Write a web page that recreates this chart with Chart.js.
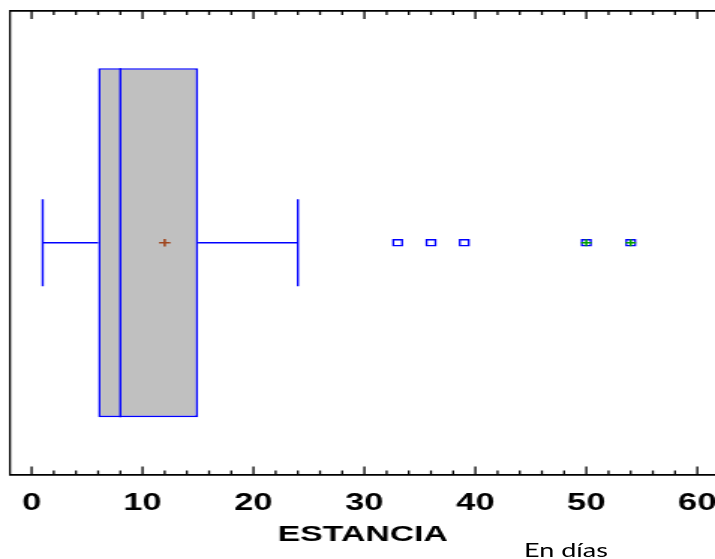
<!DOCTYPE html>
<html lang="es">
<head>
  <meta charset="UTF-8">
  <title>ESTANCIA - diagrama de caja</title>
  <script src="https://cdn.jsdelivr.net/npm/chart.js@4.4.1/dist/chart.umd.min.js"></script>
  <style>
    body {
      margin: 0;
      background: #fff;
    }

    .wrap {
      position: relative;
      width: 715px;
      height: 559px;
      overflow: hidden;
    }

    /* the original picture is stretched sideways, so draw narrow and widen it */
    #boxChart {
      display: block;
      width: 715px !important;
      height: 559px !important;
    }

    .units {
      position: absolute;
      left: 566px;
      top: 549px;
      transform: translate(-50%, -50%) scaleX(1.35);
      font-family: Lato, "Open Sans", sans-serif;
      font-size: 20px;
      color: #000;
      white-space: nowrap;
    }
  </style>
</head>
<body>
  <div class="wrap">
    <canvas id="boxChart" width="477" height="559"></canvas>
    <div class="units">En días</div>
  </div>
  <script>
    // ESTANCIA: min, Q1, median, Q3, max
    const boxStats = [1, 6, 8, 15, 24];
    const meanValue = [12];
    const outsidePoints = [33, 36, 39];
    const farOutsidePoints = [50, 54];
    const xTickLabels = [0, 10, 20, 30, 40, 50, 60];

    const [lo, q1, med, q3, hi] = boxStats;

    // one box, centred on a 0..1 vertical scale
    const mid = 0.5;
    const boxShare = 0.753;
    const capHalf = 0.094;

    function seg(x1, y1, x2, y2) {
      return [{x: x1, y: y1}, {x: x2, y: y2}];
    }

    const lineStyle = {
      type: 'line',
      borderColor: '#0000ff',
      borderWidth: 1.4,
      pointRadius: 0,
      fill: false
    };

    // short ticks pointing into the plot, long ones every 10
    const innerTicks = {
      id: 'innerTicks',
      afterDraw(chart) {
        const {ctx, chartArea: a} = chart;
        const x = chart.scales.x;
        ctx.save();
        ctx.strokeStyle = '#000';
        ctx.lineWidth = 1.3;
        x.ticks.forEach(t => {
          const px = x.getPixelForValue(t.value);
          const len = xTickLabels.includes(t.value) ? 8 : 4;
          ctx.beginPath();
          ctx.moveTo(px, a.bottom);
          ctx.lineTo(px, a.bottom - len);
          ctx.moveTo(px, a.top);
          ctx.lineTo(px, a.top + len);
          ctx.stroke();
        });
        ctx.restore();
      }
    };

    Chart.defaults.font.family = '"Liberation Sans", Arial, sans-serif';
    Chart.defaults.color = '#000';

    const ctx = document.getElementById('boxChart').getContext('2d');
    const boxChart = new Chart(ctx, {
      type: 'scatter',
      data: {
        datasets: [
          {
            data: farOutsidePoints.map(v => ({x: v, y: mid})),
            pointStyle: 'cross',
            pointRadius: 3.5,
            borderColor: '#00a000',
            borderWidth: 1.5
          },
          {
            data: outsidePoints.concat(farOutsidePoints).map(v => ({x: v, y: mid})),
            pointStyle: 'rect',
            pointRadius: 4.2,
            borderColor: '#0000ff',
            backgroundColor: '#ffffff',
            borderWidth: 1.3
          },
          {
            data: meanValue.map(v => ({x: v, y: mid})),
            pointStyle: 'cross',
            pointRadius: 3.8,
            borderColor: '#a0461e',
            borderWidth: 1.6
          },
          {...lineStyle, data: seg(med, mid - boxShare / 2, med, mid + boxShare / 2)},
          {...lineStyle, data: seg(lo, mid, q1, mid)},
          {...lineStyle, data: seg(q3, mid, hi, mid)},
          {...lineStyle, data: seg(lo, mid - capHalf, lo, mid + capHalf)},
          {...lineStyle, data: seg(hi, mid - capHalf, hi, mid + capHalf)},
          {
            type: 'bar',
            indexAxis: 'y',
            data: [{x: [q1, q3], y: mid}],
            backgroundColor: '#c0c0c0',
            borderColor: '#0000ff',
            borderWidth: 1.6,
            borderSkipped: false,
            barPercentage: boxShare,
            categoryPercentage: 1,
            order: 1
          }
        ]
      },
      options: {
        responsive: false,
        animation: false,
        layout: {
          autoPadding: false,
          padding: {left: 7, top: 11, right: 0, bottom: 11}
        },
        plugins: {
          legend: {display: false},
          tooltip: {enabled: false}
        },
        scales: {
          x: {
            type: 'linear',
            position: 'bottom',
            min: -1.9,
            max: 61.6,
            grid: {display: false, drawTicks: false},
            border: {display: true, color: '#000', width: 1.8},
            ticks: {
              stepSize: 2,
              includeBounds: false,
              autoSkip: false,
              maxRotation: 0,
              padding: 15,
              font: {size: 23, weight: 'bold'},
              callback: v => xTickLabels.includes(v) ? String(v) : ''
            },
            title: {
              display: true,
              text: 'ESTANCIA',
              font: {size: 22.5, weight: 'bold'},
              padding: {top: -11, bottom: 0}
            },
            // the plot runs right up to the edge, as in the original
            afterFit: scale => { scale.paddingLeft = 0; scale.paddingRight = 0; }
          },
          xTop: {
            type: 'linear',
            position: 'top',
            min: -1.9,
            max: 61.6,
            grid: {display: false, drawTicks: false},
            border: {display: true, color: '#000', width: 1.8},
            ticks: {display: false}
          },
          y: {
            type: 'linear',
            position: 'left',
            min: 0,
            max: 1,
            offset: false,
            grid: {display: false, drawTicks: false, offset: false},
            border: {display: true, color: '#000', width: 1.3},
            ticks: {display: false, stepSize: 1}
          }
        }
      },
      plugins: [innerTicks]
    });
  </script>
</body>
</html>
